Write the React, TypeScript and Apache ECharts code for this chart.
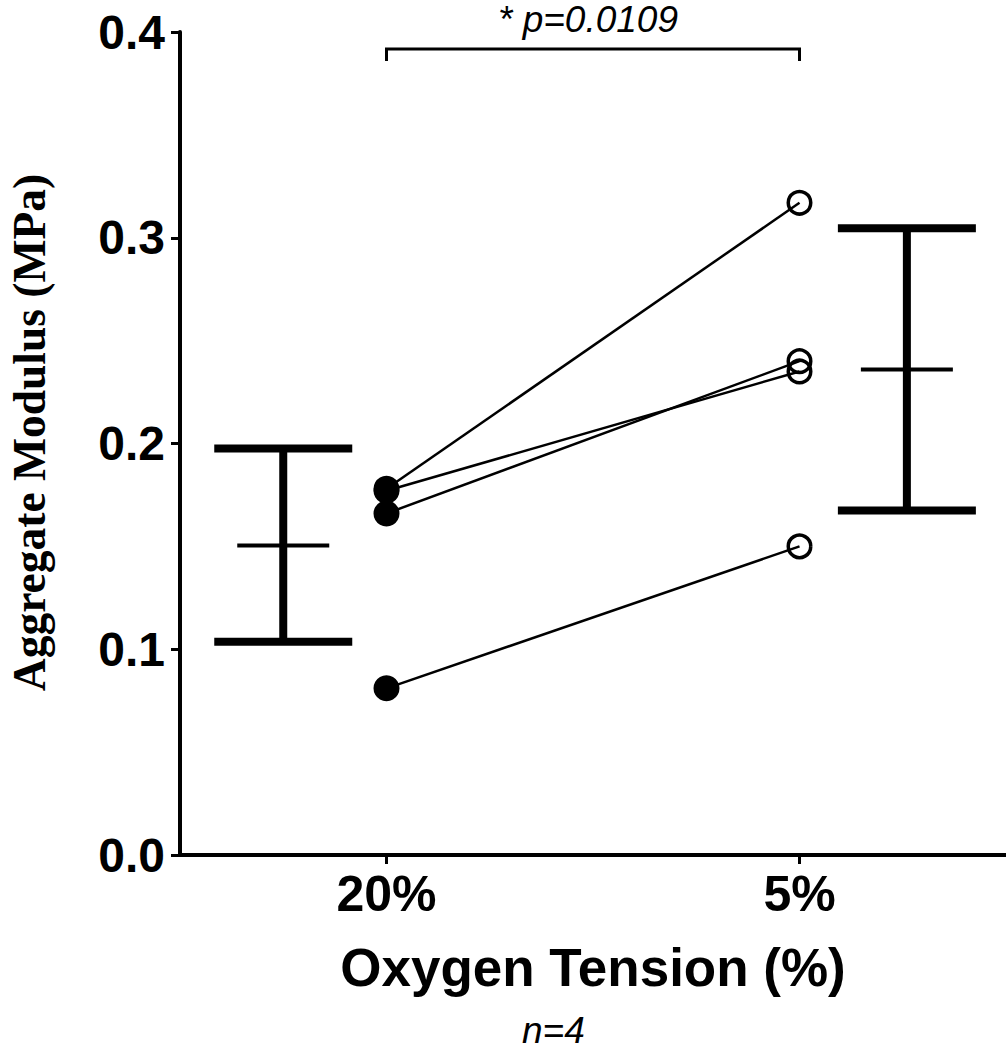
import React, { useEffect, useRef } from "react";
import * as echarts from "echarts";

// Paired measurements (Aggregate Modulus, MPa)
const groupLabels = ["20%", "5%"];
const groupPositions = [1, 2];
const valuesAt20 = [0.178, 0.177, 0.166, 0.081];
const valuesAt5 = [0.317, 0.235, 0.240, 0.150];

// Mean ± SD bars, drawn beside each group
const barPositions = [0.75, 2.26];
const barMeans = [0.1504, 0.236];
const barLower = [0.1036, 0.1674];
const barUpper = [0.1976, 0.3046];

// Significance bracket
const bracketFrom = 1;
const bracketTo = 2;
const bracketY = 0.3917;
const bracketText = "* p=0.0109";

const yTicks = [0, 0.1, 0.2, 0.3, 0.4];

const BOLD_SANS = "'Liberation Sans', Arial, sans-serif";

export default function App() {
  const ref = useRef<HTMLDivElement>(null);

  useEffect(() => {
    if (!ref.current) return;
    const chart = echarts.init(ref.current, undefined, { renderer: "svg" });

    const pairSeries = valuesAt20.map((v, i) => ({
      type: "line",
      data: [
        [groupPositions[0], v],
        [groupPositions[1], valuesAt5[i]],
      ],
      showSymbol: false,
      symbol: "none",
      lineStyle: { color: "#000", width: 2.5 },
      z: 2,
      silent: true,
    }));

    const option: any = {
      animation: false,
      backgroundColor: "#fff",
      grid: { left: 180, right: 0, top: 32, bottom: 195, outerBoundsMode: "none", containLabel: false },
      xAxis: {
        type: "value",
        min: 0.5,
        max: 2.5,
        splitLine: { show: false },
        axisLine: { show: true, onZero: false, lineStyle: { color: "#000", width: 4 } },
        axisTick: {
          show: true,
          customValues: groupPositions,
          length: 9,
          lineStyle: { color: "#000", width: 3 },
        },
        axisLabel: {
          customValues: groupPositions,
          formatter: (v: number) => groupLabels[groupPositions.indexOf(v)] ?? "",
          color: "#000",
          fontFamily: BOLD_SANS,
          fontWeight: "bold",
          fontSize: 50,
          margin: 14,
        },
        name: "Oxygen Tension (%)",
        nameLocation: "middle",
        nameGap: 86,
        nameTextStyle: {
          color: "#000",
          fontFamily: BOLD_SANS,
          fontWeight: "bold",
          fontSize: 53,
        },
      },
      yAxis: {
        type: "value",
        min: 0,
        max: 0.4,
        interval: 0.1,
        splitLine: { show: false },
        axisLine: { show: true, lineStyle: { color: "#000", width: 4 } },
        axisTick: { show: true, length: 9, lineStyle: { color: "#000", width: 3 } },
        axisLabel: {
          formatter: (v: number) => (yTicks.includes(Math.round(v * 10) / 10) ? v.toFixed(1) : ""),
          color: "#000",
          fontFamily: BOLD_SANS,
          fontWeight: "bold",
          fontSize: 48,
          margin: 15,
        },
        name: "Aggregate Modulus (MPa)",
        nameLocation: "middle",
        nameGap: 128,
        nameTextStyle: {
          color: "#000",
          fontFamily: "'Liberation Serif', 'Times New Roman', serif",
          fontWeight: "bold",
          fontSize: 45.5,
          padding: [0, 0, 0, 22],
        },
      },
      graphic: [
        {
          type: "text",
          left: 554 - 32,
          top: 1012,
          style: {
            text: "n=4",
            fill: "#000",
            font: "italic 37px 'Liberation Sans', Arial, sans-serif",
            lineHeight: 30,
          },
        },
      ],
      series: [
        ...pairSeries,
        {
          type: "scatter",
          data: valuesAt20.map((v) => [groupPositions[0], v]),
          symbol: "circle",
          symbolSize: 26,
          itemStyle: { color: "#000", opacity: 1 },
          z: 3,
          silent: true,
        },
        {
          type: "scatter",
          data: valuesAt5.map((v) => [groupPositions[1], v]),
          symbol: "circle",
          symbolSize: 22.5,
          itemStyle: { color: "rgba(0,0,0,0)", borderColor: "#000", borderWidth: 3.5, opacity: 1 },
          z: 3,
          silent: true,
        },
        {
          type: "custom",
          clip: false,
          silent: true,
          data: barPositions.map((p, i) => [p, barMeans[i], barLower[i], barUpper[i]]),
          renderItem: (params: any, api: any) => {
            const x = api.value(0);
            const mean = api.coord([x, api.value(1)]);
            const lo = api.coord([x, api.value(2)]);
            const hi = api.coord([x, api.value(3)]);
            const capHalf = 69;
            const meanHalf = 46;
            const thick = { stroke: "#000", lineWidth: 8 };
            return {
              type: "group",
              children: [
                { type: "line", shape: { x1: lo[0], y1: lo[1], x2: hi[0], y2: hi[1] }, style: thick },
                { type: "line", shape: { x1: hi[0] - capHalf, y1: hi[1], x2: hi[0] + capHalf, y2: hi[1] }, style: thick },
                { type: "line", shape: { x1: lo[0] - capHalf, y1: lo[1], x2: lo[0] + capHalf, y2: lo[1] }, style: thick },
                {
                  type: "line",
                  shape: { x1: mean[0] - meanHalf, y1: mean[1], x2: mean[0] + meanHalf, y2: mean[1] },
                  style: { stroke: "#000", lineWidth: 4 },
                },
              ],
            };
          },
        },
        {
          type: "custom",
          clip: false,
          silent: true,
          data: [[bracketFrom, bracketTo, bracketY]],
          renderItem: (params: any, api: any) => {
            const a = api.coord([api.value(0), api.value(2)]);
            const b = api.coord([api.value(1), api.value(2)]);
            const drop = 12;
            return {
              type: "group",
              children: [
                {
                  type: "polyline",
                  shape: { points: [[a[0], a[1] + drop], [a[0], a[1]], [b[0], b[1]], [b[0], b[1] + drop]] },
                  style: { stroke: "#000", lineWidth: 3, fill: "none" },
                },
                {
                  type: "text",
                  x: (a[0] + b[0]) / 2 - 5,
                  y: 19,
                  style: {
                    text: bracketText,
                    fill: "#000",
                    font: "italic 37px 'Liberation Sans', Arial, sans-serif",
                    lineHeight: 34,
                    align: "center",
                    verticalAlign: "middle",
                  },
                },
              ],
            };
          },
        },
      ],
    };

    chart.setOption(option);
    return () => chart.dispose();
  }, []);

  return (
    <div
      ref={ref}
      style={{ position: "absolute", left: 0, top: 0, width: 1006, height: 1050, background: "#fff" }}
    />
  );
}
